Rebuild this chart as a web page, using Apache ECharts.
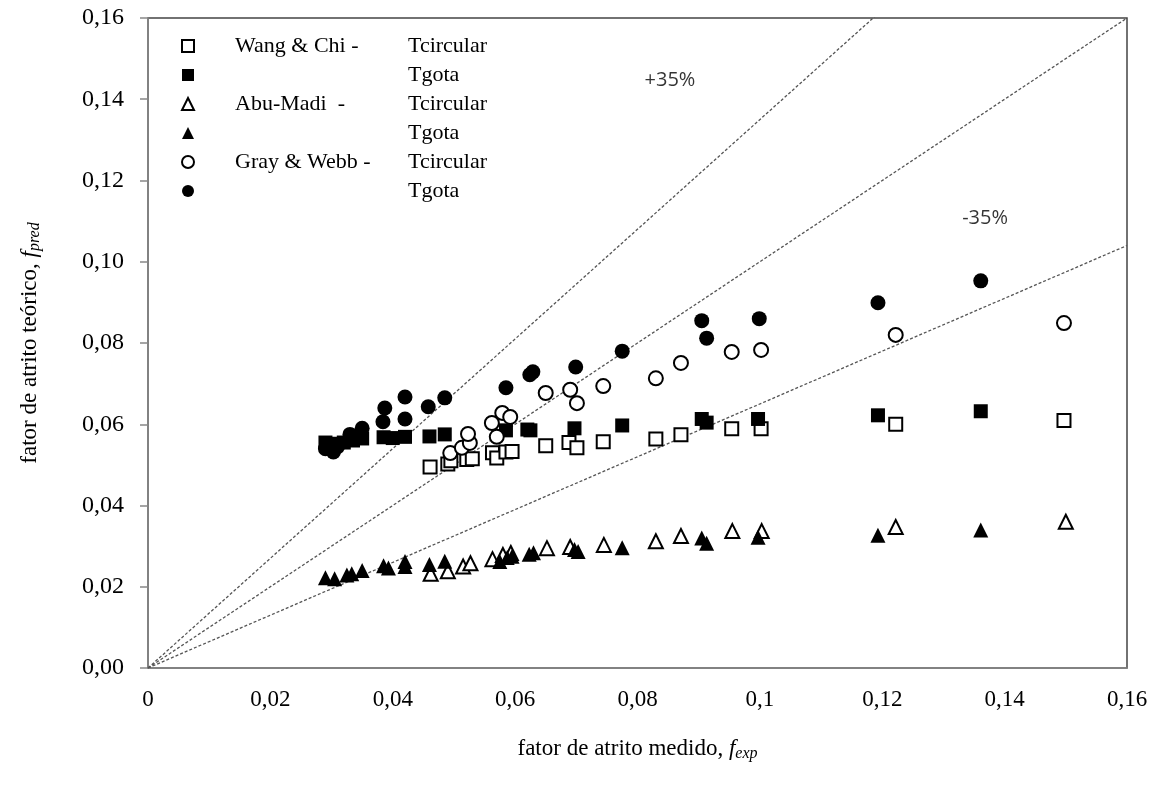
<!DOCTYPE html>
<html>
<head>
<meta charset="utf-8">
<script src="https://cdn.jsdelivr.net/npm/echarts@6/dist/echarts.min.js"></script>
<style>html,body{margin:0;padding:0;background:#fff;}#c{width:1167px;height:785px;}</style>
</head>
<body>
<div id="c"></div>
<script>
// Data: [f_exp, f_pred]
const wangCircular = [[0.0461,0.0495],[0.049,0.0502],[0.0495,0.051],[0.0521,0.0513],[0.053,0.0515],[0.0563,0.053],[0.057,0.0517],[0.0585,0.0532],[0.0595,0.0533],[0.065,0.0547],[0.0688,0.0555],[0.0701,0.0542],[0.0744,0.0557],[0.083,0.0564],[0.0871,0.0574],[0.0954,0.0589],[0.1002,0.0589],[0.1222,0.0600],[0.1497,0.0609]];
const wangGota = [[0.029,0.0555],[0.0305,0.0552],[0.032,0.0555],[0.0335,0.056],[0.035,0.0565],[0.0385,0.0568],[0.040,0.0566],[0.042,0.0569],[0.046,0.057],[0.0485,0.0575],[0.0585,0.0585],[0.062,0.0587],[0.0625,0.0585],[0.0697,0.059],[0.0775,0.0597],[0.0905,0.0613],[0.0913,0.0604],[0.0997,0.0613],[0.1193,0.0622],[0.1361,0.0632]];
const abuCircular = [[0.0462,0.0232],[0.049,0.0238],[0.0515,0.025],[0.0527,0.0258],[0.0563,0.0268],[0.058,0.0278],[0.0593,0.0283],[0.0652,0.0295],[0.069,0.0298],[0.0745,0.0303],[0.083,0.0312],[0.0871,0.0325],[0.0955,0.0337],[0.1003,0.0337],[0.1222,0.0347],[0.150,0.036]];
const abuGota = [[0.029,0.0222],[0.0305,0.022],[0.0325,0.0229],[0.0333,0.0232],[0.035,0.024],[0.0385,0.0252],[0.0393,0.0246],[0.042,0.0262],[0.042,0.025],[0.046,0.0255],[0.0485,0.0263],[0.0575,0.0262],[0.0587,0.0272],[0.0595,0.0275],[0.0623,0.028],[0.063,0.0284],[0.0697,0.0292],[0.0703,0.0287],[0.0775,0.0296],[0.0905,0.032],[0.0913,0.0307],[0.0997,0.0322],[0.1193,0.0327],[0.1361,0.034]];
const grayCircular = [[0.0494,0.0529],[0.0513,0.0542],[0.0526,0.0554],[0.0523,0.0576],[0.0562,0.0603],[0.057,0.0569],[0.0579,0.0628],[0.0592,0.0618],[0.065,0.0677],[0.069,0.0685],[0.0701,0.0652],[0.0744,0.0694],[0.083,0.0713],[0.0871,0.0751],[0.0954,0.0778],[0.1002,0.0783],[0.1222,0.082],[0.1497,0.0849]];
const grayGota = [[0.029,0.054],[0.0303,0.0532],[0.031,0.0545],[0.033,0.0575],[0.035,0.059],[0.0384,0.0606],[0.0387,0.064],[0.042,0.0613],[0.042,0.0667],[0.0458,0.0643],[0.0485,0.0665],[0.0585,0.069],[0.0624,0.0722],[0.0629,0.0729],[0.0699,0.0741],[0.0775,0.078],[0.0905,0.0855],[0.0913,0.0812],[0.0999,0.086],[0.1193,0.0899],[0.1361,0.0953]];
const refLines = [
  {name:'+35', data:[[0,0],[0.16,0.216]]},
  {name:'0', data:[[0,0],[0.16,0.16]]},
  {name:'-35', data:[[0,0],[0.16,0.104]]}
];
const annotations = [{text:'+35%', pos:[0.0853,0.1447]},{text:'-35%', pos:[0.1368,0.1108]}];
const xTicks = {min:0, max:0.16, interval:0.02};
const yTicks = {min:0, max:0.16, interval:0.02};
const legendText = {
  'wc': ['Wang & Chi -','Tcircular'],
  'wg': ['','Tgota'],
  'ac': ['Abu-Madi  -','Tcircular'],
  'ag': ['','Tgota'],
  'gc': ['Gray & Webb -','Tcircular'],
  'gg': ['','Tgota']
};

const serif = '"Liberation Serif", "Times New Roman", serif';
const openStyle = {color:'#fff', borderColor:'#000', borderWidth:2, opacity:1};
const fillStyle = {color:'#000', opacity:1};

const series = [];
refLines.forEach(l => series.push({
  type:'line', name:l.name, data:l.data, symbol:'none', silent:true, z:1,
  lineStyle:{color:'#555', width:1.3, type:[3,2]}, clip:true
}));
series.push({type:'scatter', name:'wc', data:wangCircular, symbol:'rect', symbolSize:13, itemStyle:openStyle, z:3});
series.push({type:'scatter', name:'wg', data:wangGota, symbol:'rect', symbolSize:14, itemStyle:fillStyle, z:3});
series.push({type:'scatter', name:'ac', data:abuCircular, symbol:'triangle', symbolSize:14, itemStyle:openStyle, z:3});
series.push({type:'scatter', name:'ag', data:abuGota, symbol:'triangle', symbolSize:15, itemStyle:fillStyle, z:3});
series.push({type:'scatter', name:'gc', data:grayCircular, symbol:'circle', symbolSize:14, itemStyle:openStyle, z:3});
series.push({type:'scatter', name:'gg', data:grayGota, symbol:'circle', symbolSize:15, itemStyle:fillStyle, z:3});
series.push({
  type:'scatter', name:'ann', silent:true, symbolSize:0,
  data: annotations.map(a => ({value:a.pos, label:{show:true, formatter:a.text}})),
  label:{show:true, position:'inside', color:'#000', fontSize:20, fontFamily:'"Open Sans", "Noto Sans", sans-serif'}
});

const chart = echarts.init(document.getElementById('c'));
chart.setOption({
  animation:false,
  backgroundColor:'#fff',
  grid:{left:148, right:40, top:18, bottom:117, show:true, borderColor:'#444', borderWidth:1.5, backgroundColor:'transparent'},
  legend:{
    data:['wc','wg','ac','ag','gc','gg'],
    orient:'vertical', left:176, top:30, itemWidth:12, itemHeight:12, itemGap:7,
    selectedMode:false,
    formatter: n => '{p|}{a|' + legendText[n][0] + '}{b|' + legendText[n][1] + '}',
    textStyle:{
      fontFamily:serif, fontSize:22, color:'#000',
      rich:{p:{width:36}, a:{width:173, fontFamily:serif, fontSize:22, color:'#000'}, b:{fontFamily:serif, fontSize:22, color:'#000'}}
    }
  },
  xAxis:{
    type:'value', min:xTicks.min, max:xTicks.max, interval:xTicks.interval,
    splitLine:{show:false},
    axisLine:{show:true, onZero:false, lineStyle:{color:'#888', width:1.5}},
    axisTick:{show:false},
    axisLabel:{margin:20, color:'#000', fontFamily:serif, fontSize:23,
      formatter: v => String(+v.toFixed(2)).replace('.', ',')},
    name:'{t|fator de atrito medido, }{f|f}{s|exp}',
    nameLocation:'middle', nameGap:68,
    nameTextStyle:{rich:{
      t:{fontFamily:serif, fontSize:23, color:'#000'},
      f:{fontFamily:serif, fontSize:23, fontStyle:'italic', color:'#000'},
      s:{fontFamily:serif, fontSize:16, fontStyle:'italic', color:'#000', verticalAlign:'bottom', padding:[10,0,0,0]}
    }}
  },
  yAxis:{
    type:'value', min:yTicks.min, max:yTicks.max, interval:yTicks.interval,
    splitLine:{show:false},
    axisLine:{show:true, onZero:false, lineStyle:{color:'#888', width:1.5}},
    axisTick:{show:true, inside:false, length:8, lineStyle:{color:'#888', width:1.5}},
    axisLabel:{margin:24, color:'#000', fontFamily:serif, fontSize:24,
      formatter: v => v.toFixed(2).replace('.', ',')},
    name:'{t|fator de atrito teórico, }{f|f}{s|pred}',
    nameLocation:'middle', nameGap:105, nameRotate:90,
    nameTextStyle:{rich:{
      t:{fontFamily:serif, fontSize:23, color:'#000'},
      f:{fontFamily:serif, fontSize:23, fontStyle:'italic', color:'#000'},
      s:{fontFamily:serif, fontSize:16, fontStyle:'italic', color:'#000', verticalAlign:'bottom', padding:[10,0,0,0]}
    }}
  },
  series: series
});
</script>
</body>
</html>
